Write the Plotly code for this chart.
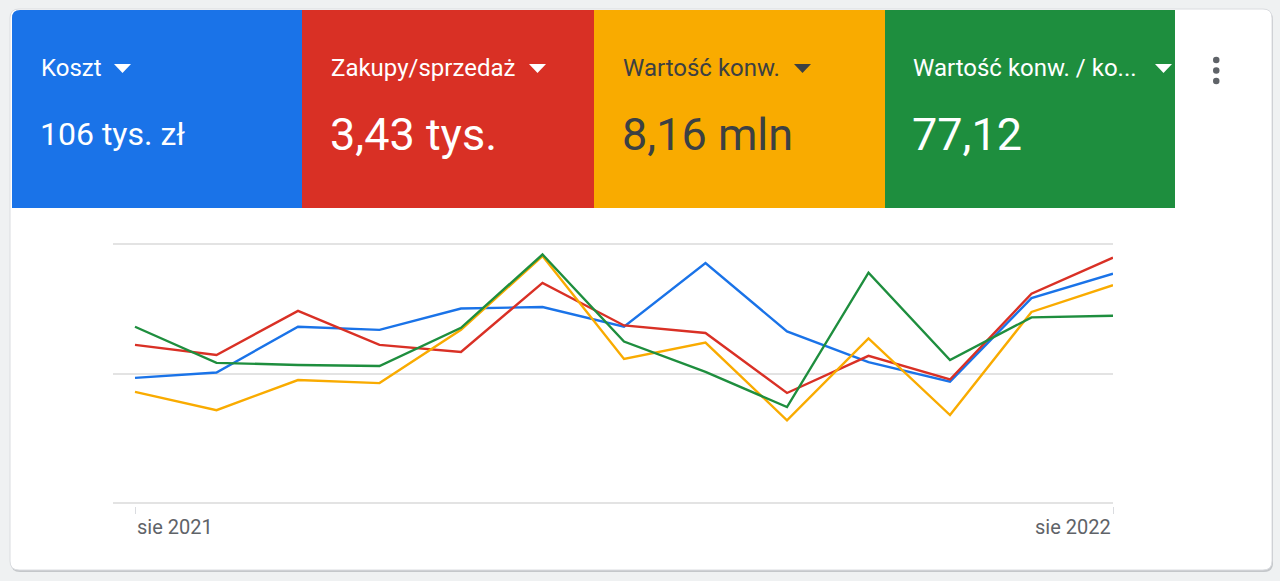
import plotly.graph_objects as go

# ---- data ----
months = ["sie 2021", "wrz 2021", "paź 2021", "lis 2021", "gru 2021", "sty 2022",
          "lut 2022", "mar 2022", "kwi 2022", "maj 2022", "cze 2022", "lip 2022", "sie 2022"]
koszt = [48.3, 50.4, 68.0, 66.8, 75.0, 75.6, 68.0, 92.5, 66.2, 54.4, 46.9, 79.0, 88.4]
zakupy = [61.0, 57.1, 74.1, 61.0, 58.3, 84.9, 68.5, 65.6, 42.5, 56.8, 47.7, 80.7, 94.6]
wartosc = [42.9, 35.9, 47.5, 46.3, 66.8, 95.2, 55.6, 61.9, 32.0, 63.5, 34.0, 73.7, 84.0]
wartosc_koszt = [68.0, 54.1, 53.3, 52.9, 67.6, 95.8, 62.3, 50.6, 37.1, 88.8, 55.2, 71.6, 72.2]

tile_titles = ["Koszt", "Zakupy/sprzedaż", "Wartość konw.", "Wartość konw. / ko..."]
tile_values = ["106 tys. zł", "3,43 tys.", "8,16 mln", "77,12"]
axis_labels = [months[0], months[-1]]

BLUE, RED, YELLOW, GREEN = "#1a73e8", "#d93025", "#f9ab00", "#1e8e3e"
series = [("Koszt", koszt, BLUE), ("Zakupy/sprzedaż", zakupy, RED),
          ("Wartość konw.", wartosc, YELLOW), ("Wartość konw. / koszt", wartosc_koszt, GREEN)]

W, H = 1280, 581
L, R = 113, 1113          # plot area x in pixels
T, B = 241, 506           # plot area y in pixels (y range -1..101)
Y0, Y1 = -1, 101


def px(x):
    return (x - L) / (R - L)


def py(y):
    # pixel y -> paper y
    return (B - y) / (B - T)


fig = go.Figure()
for name, vals, col in series:
    fig.add_trace(go.Scatter(x=list(range(len(months))), y=vals, mode="lines", name=name,
                             line=dict(color=col, width=2.4), hoverinfo="skip"))


def rrect(x0, y0, x1, y1, r, tl=True, tr=True, br=True, bl=True):
    def P(x, y):
        return f"{px(x):.5f},{py(y):.5f}"
    d = "M " + (P(x0 + r, y0) if tl else P(x0, y0))
    d += " L " + (P(x1 - r, y0) if tr else P(x1, y0))
    if tr:
        d += " Q " + P(x1, y0) + " " + P(x1, y0 + r)
    d += " L " + (P(x1, y1 - r) if br else P(x1, y1))
    if br:
        d += " Q " + P(x1, y1) + " " + P(x1 - r, y1)
    d += " L " + (P(x0 + r, y1) if bl else P(x0, y1))
    if bl:
        d += " Q " + P(x0, y1) + " " + P(x0, y1 - r)
    d += " L " + (P(x0, y0 + r) if tl else P(x0, y0))
    if tl:
        d += " Q " + P(x0, y0) + " " + P(x0 + r, y0)
    return d + " Z"


shapes = []
shapes.append(dict(type="path", xref="paper", yref="paper", path=rrect(11, 11, 1273, 572, 9),
                   fillcolor="#c4c7ca", line=dict(width=0), layer="below"))
shapes.append(dict(type="path", xref="paper", yref="paper", path=rrect(10, 9, 1272, 570, 9),
                   fillcolor="#ffffff", line=dict(color="#dadce0", width=1), layer="below"))

tile_x = [12, 302, 594, 885, 1175]
tile_cols = [BLUE, RED, YELLOW, GREEN]
for i, c in enumerate(tile_cols):
    shapes.append(dict(type="path", xref="paper", yref="paper",
                       path=rrect(tile_x[i], 10, tile_x[i + 1], 208, 8,
                                  tl=(i == 0), tr=False, br=False, bl=False),
                       fillcolor=c, line=dict(width=0), layer="below"))

# dropdown triangles
tri_x = [114, 529, 794, 1155]
for i, tx in enumerate(tri_x):
    col = "#3c4043" if i == 2 else "#ffffff"
    shapes.append(dict(type="path", xref="paper", yref="paper",
                       path=f"M {px(tx):.5f},{py(64):.5f} L {px(tx + 17):.5f},{py(64):.5f} "
                            f"L {px(tx + 8.5):.5f},{py(73):.5f} Z",
                       fillcolor=col, line=dict(width=0)))

# kebab menu dots
for dy in (60, 70.5, 81):
    shapes.append(dict(type="circle", xref="paper", yref="paper",
                       x0=px(1213), x1=px(1219.5), y0=py(dy - 3.2), y1=py(dy + 3.2),
                       fillcolor="#5f6368", line=dict(width=0)))

annotations = []
title_x = [40, 330, 622, 912]
for i in range(4):
    col = "#3c4043" if i == 2 else "#ffffff"
    annotations.append(dict(xref="paper", yref="paper", x=px(title_x[i] - 1), y=py(68),
                            xanchor="left", yanchor="middle", showarrow=False,
                            text=tile_titles[i], font=dict(family="Roboto", size=24, color=col)))
    annotations.append(dict(xref="paper", yref="paper", x=px(title_x[i] - 2), y=py(134),
                            xanchor="left", yanchor="middle", showarrow=False,
                            text=tile_values[i],
                            font=dict(family="Roboto", size=32 if i == 0 else 45, color=col)))

annotations.append(dict(xref="x", yref="paper", x=0, y=py(527), xanchor="left", yanchor="middle",
                        showarrow=False, text=axis_labels[0],
                        font=dict(family="Roboto", size=20, color="#5f6368")))
annotations.append(dict(xref="x", yref="paper", x=len(months) - 1, y=py(527), xanchor="right",
                        yanchor="middle", showarrow=False, text=axis_labels[1],
                        font=dict(family="Roboto", size=20, color="#5f6368")))

fig.update_layout(
    width=W, height=H,
    margin=dict(l=L, r=W - R, t=T, b=H - B, pad=0),
    paper_bgcolor="#eff1f2",
    plot_bgcolor="rgba(0,0,0,0)",
    showlegend=False,
    shapes=shapes,
    annotations=annotations,
    xaxis=dict(range=[-(135 - L) / 81.5, len(months) - 1], showgrid=False, zeroline=False,
               showline=False, tickmode="array", tickvals=[0, len(months) - 1],
               ticks="outside", ticklen=7, tickwidth=1, tickcolor="#dadce0",
               showticklabels=False, fixedrange=True),
    yaxis=dict(range=[Y0, Y1], tickmode="array", tickvals=[0, 50, 100], showgrid=True,
               gridcolor="#e3e3e3", gridwidth=2, zeroline=False, showline=False,
               showticklabels=False, fixedrange=True),
)

fig.write_html("out.html", config={"displayModeBar": False},
               post_script="document.body.style.margin='0';document.body.style.background='#eff1f2';")
